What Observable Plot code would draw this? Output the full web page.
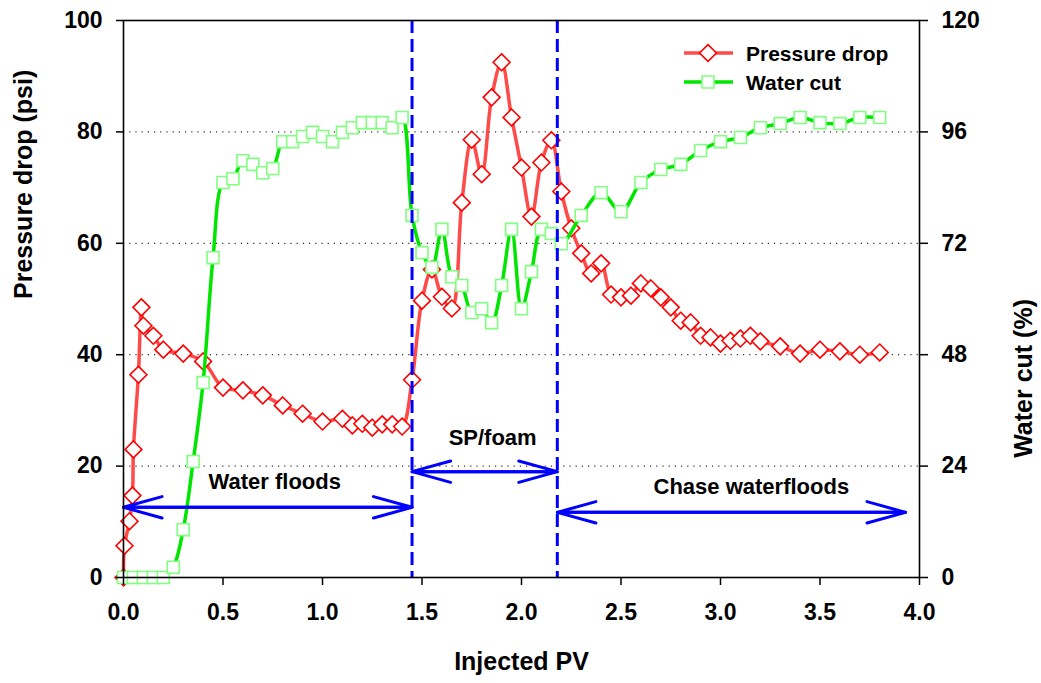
<!DOCTYPE html>
<html>
<head>
<meta charset="utf-8">
<script src="https://cdn.jsdelivr.net/npm/d3@7"></script>
<script src="https://cdn.jsdelivr.net/npm/@observablehq/plot@0.6"></script>
<style>
  html, body { margin: 0; padding: 0; background: #fff; }
  #chart { width: 1041px; height: 683px; }
</style>
</head>
<body>
<div id="chart"></div>
<script>
// ---- Data ----
const pvPressure = [0, 0.005, 0.03, 0.045, 0.05, 0.075, 0.09, 0.1, 0.15, 0.2, 0.3, 0.4, 0.5, 0.6, 0.7, 0.8, 0.9, 1.0, 1.1, 1.15, 1.2, 1.25, 1.3, 1.35, 1.4, 1.45,
  1.5, 1.55, 1.6, 1.65, 1.7, 1.75, 1.8, 1.85, 1.9, 1.95, 2.0, 2.05, 2.1, 2.15, 2.2, 2.25, 2.3, 2.35, 2.4, 2.45, 2.5, 2.55, 2.6, 2.65, 2.7, 2.75, 2.8, 2.85, 2.9, 2.95,
  3.0, 3.05, 3.1, 3.15, 3.2, 3.3, 3.4, 3.5, 3.6, 3.7, 3.8];
const pressureDrop = [0, 5.7, 10.1, 14.7, 23.0, 36.4, 48.5, 45.2, 43.4, 40.9, 40.2, 38.8, 34.1, 33.6, 32.7, 30.9, 29.4, 28.0, 28.5, 27.3, 27.6, 26.9, 27.5, 27.5, 27.1, 35.5,
  49.7, 55.3, 50.4, 48.3, 67.3, 78.6, 72.4, 86.2, 92.5, 82.6, 73.6, 64.8, 74.5, 78.5, 69.3, 62.7, 58.2, 54.6, 56.4, 50.8, 50.3, 50.6, 52.8, 51.9, 50.3, 48.5, 46.1, 45.8, 43.4, 43.1,
  42.0, 42.5, 42.9, 43.4, 42.4, 41.5, 40.2, 40.9, 40.6, 40.0, 40.4];

const pvWater = [0, 0.05, 0.1, 0.15, 0.2, 0.25, 0.3, 0.35, 0.4, 0.45, 0.5, 0.55, 0.6, 0.65, 0.7, 0.75, 0.8, 0.85, 0.9, 0.95, 1.0, 1.05, 1.1, 1.15, 1.2, 1.25, 1.3, 1.35, 1.4, 1.45,
  1.5, 1.55, 1.6, 1.65, 1.7, 1.75, 1.8, 1.85, 1.9, 1.95, 2.0, 2.05, 2.1, 2.15, 2.2, 2.3, 2.4, 2.5, 2.6, 2.7, 2.8, 2.9, 3.0, 3.1, 3.2, 3.3, 3.4, 3.5, 3.6, 3.7, 3.8];
const waterCut = [0, 0, 0, 0, 0, 2.2, 10.3, 25.0, 42.0, 68.9, 85.1, 85.9, 89.8, 89.0, 87.2, 88.1, 93.9, 93.9, 95.0, 95.9, 95.0, 93.9, 95.9, 96.9, 98.0, 98.0, 98.0, 96.9, 99.1, 78.0,
  70.0, 66.8, 75.0, 64.8, 62.9, 57.1, 57.9, 54.9, 62.9, 75.0, 57.9, 65.9, 75.0, 74.1, 71.9, 78.0, 82.9, 78.8, 85.1, 87.9, 89.0, 92.0, 93.9, 94.8, 96.9, 97.8, 99.1, 98.0, 97.8, 99.1, 99.1];

const xTicks = [0, 0.5, 1.0, 1.5, 2.0, 2.5, 3.0, 3.5, 4.0];
const leftTicks = [0, 20, 40, 60, 80, 100];
const rightTicks = [0, 24, 48, 72, 96, 120];
const gridLevels = [20, 40, 60, 80];
const phaseBoundaries = [1.45, 2.18];

const stageNames = ["Water floods", "SP/foam", "Chase waterfloods"];
const stageStart = [0, 1.45, 2.18];
const stageEnd = [1.45, 2.18, 3.93];
const stageArrowLevel = [12.6, 19.0, 11.7];
const stageLabelX = [0.76, 1.855, 3.155];
const stageLabelY = [17.1, 25.0, 16.3];

const seriesNames = ["Pressure drop", "Water cut"];

// ---- Tables ----
const wcMax = 120, psiMax = 100;
const toPsi = wc => wc * psiMax / wcMax;
const pressure = pvPressure.map((pv, i) => ({pv, v: pressureDrop[i]}));
const water = pvWater.map((pv, i) => ({pv, v: toPsi(waterCut[i])}));
const stages = stageNames.map((name, i) => ({name, x1: stageStart[i], x2: stageEnd[i], y: stageArrowLevel[i], lx: stageLabelX[i], ly: stageLabelY[i]}));

const font = "'Liberation Sans', Arial, Helvetica, sans-serif";
const red = "#ff0000", redLine = "#ff4a4a", green = "#00e600", greenMarker = "#80ff80", blue = "#0000ff";

const chart = Plot.plot({
  width: 1041,
  height: 683,
  marginLeft: 123,
  marginRight: 122,
  marginTop: 20,
  marginBottom: 106,
  x: {domain: [0, 4]},
  y: {domain: [0, psiMax]},
  style: {fontFamily: font, fontWeight: "bold", background: "#fff", color: "#000", overflow: "visible"},
  marks: [
    Plot.ruleY(gridLevels, {stroke: "#333", strokeWidth: 1.2, strokeDasharray: "1.2,5"}),
    Plot.line(pressure, {x: "pv", y: "v", stroke: redLine, strokeWidth: 3.5, curve: "catmull-rom"}),
    Plot.dot(pressure, {x: "pv", y: "v", symbol: "diamond2", r: 7.6, stroke: red, strokeWidth: 1.6, fill: "#fff"}),
    Plot.line(water, {x: "pv", y: "v", stroke: green, strokeWidth: 3.5, curve: "catmull-rom"}),
    Plot.dot(water, {x: "pv", y: "v", symbol: "square2", r: 7.6, stroke: greenMarker, strokeWidth: 1.6, fill: "#fff"}),
    Plot.ruleX(phaseBoundaries, {stroke: blue, strokeWidth: 3, strokeDasharray: "13,6"}),
    Plot.arrow(stages, {x1: "x1", x2: "x2", y1: "y", y2: "y", stroke: blue, strokeWidth: 3, headAngle: 31, headLength: 20, bend: 0}),
    Plot.arrow(stages, {x1: "x2", x2: "x1", y1: "y", y2: "y", stroke: blue, strokeWidth: 3, headAngle: 31, headLength: 20, bend: 0}),
    Plot.text(stages, {x: "lx", y: "ly", text: "name", fontSize: 22, fontWeight: "bold", fill: "#000"}),
    Plot.axisX({ticks: xTicks, tickFormat: d3.format(".1f"), tickSize: 8, tickPadding: 18, fontSize: 23, label: null, strokeWidth: 1.5}),
    Plot.axisY({anchor: "left", ticks: leftTicks, tickSize: 7, tickPadding: 14, fontSize: 23, label: null, strokeWidth: 1.5}),
    Plot.axisY({anchor: "right", ticks: leftTicks, tickFormat: (d, i) => rightTicks[i], tickSize: 8, tickPadding: 14, fontSize: 23, label: null, strokeWidth: 1.5}),
    Plot.frame({stroke: "#000", strokeWidth: 1.6}),
    Plot.text(["Pressure drop (psi)"], {text: d => d, frameAnchor: "left", dx: -100, rotate: -90, fontSize: 25, fontWeight: "bold"}),
    Plot.text(["Water cut (%)"], {text: d => d, frameAnchor: "right", dx: 104, rotate: -90, fontSize: 25, fontWeight: "bold"}),
    Plot.text(["Injected PV"], {text: d => d, frameAnchor: "bottom", dy: 92, fontSize: 25, fontWeight: "bold"})
  ]
});

// ---- Legend (inside plot, top right) ----
const svg = d3.select(chart);
const legend = svg.append("g")
  .attr("font-family", font).attr("font-weight", "bold").attr("font-size", 21)
  .attr("text-anchor", "start");
const legendItems = [
  {name: seriesNames[0], line: redLine, stroke: red, y: 53, sym: d3.symbol(d3.symbolDiamond2, 7.6 * 7.6 * Math.PI)},
  {name: seriesNames[1], line: green, stroke: greenMarker, y: 82, sym: d3.symbol(d3.symbolSquare2, 7.6 * 7.6 * Math.PI)}
];
legendItems.forEach(it => {
  legend.append("line").attr("x1", 684).attr("x2", 733).attr("y1", it.y).attr("y2", it.y).attr("stroke", it.line).attr("stroke-width", 3.5);
  legend.append("path").attr("d", it.sym()).attr("transform", `translate(708,${it.y})`).attr("fill", "#fff").attr("stroke", it.stroke).attr("stroke-width", 1.6);
  legend.append("text").attr("x", 746).attr("y", it.y).attr("dy", "0.36em").attr("text-anchor", "start").attr("fill", "#000").text(it.name);
});

document.getElementById("chart").appendChild(chart);
</script>
</body>
</html>
